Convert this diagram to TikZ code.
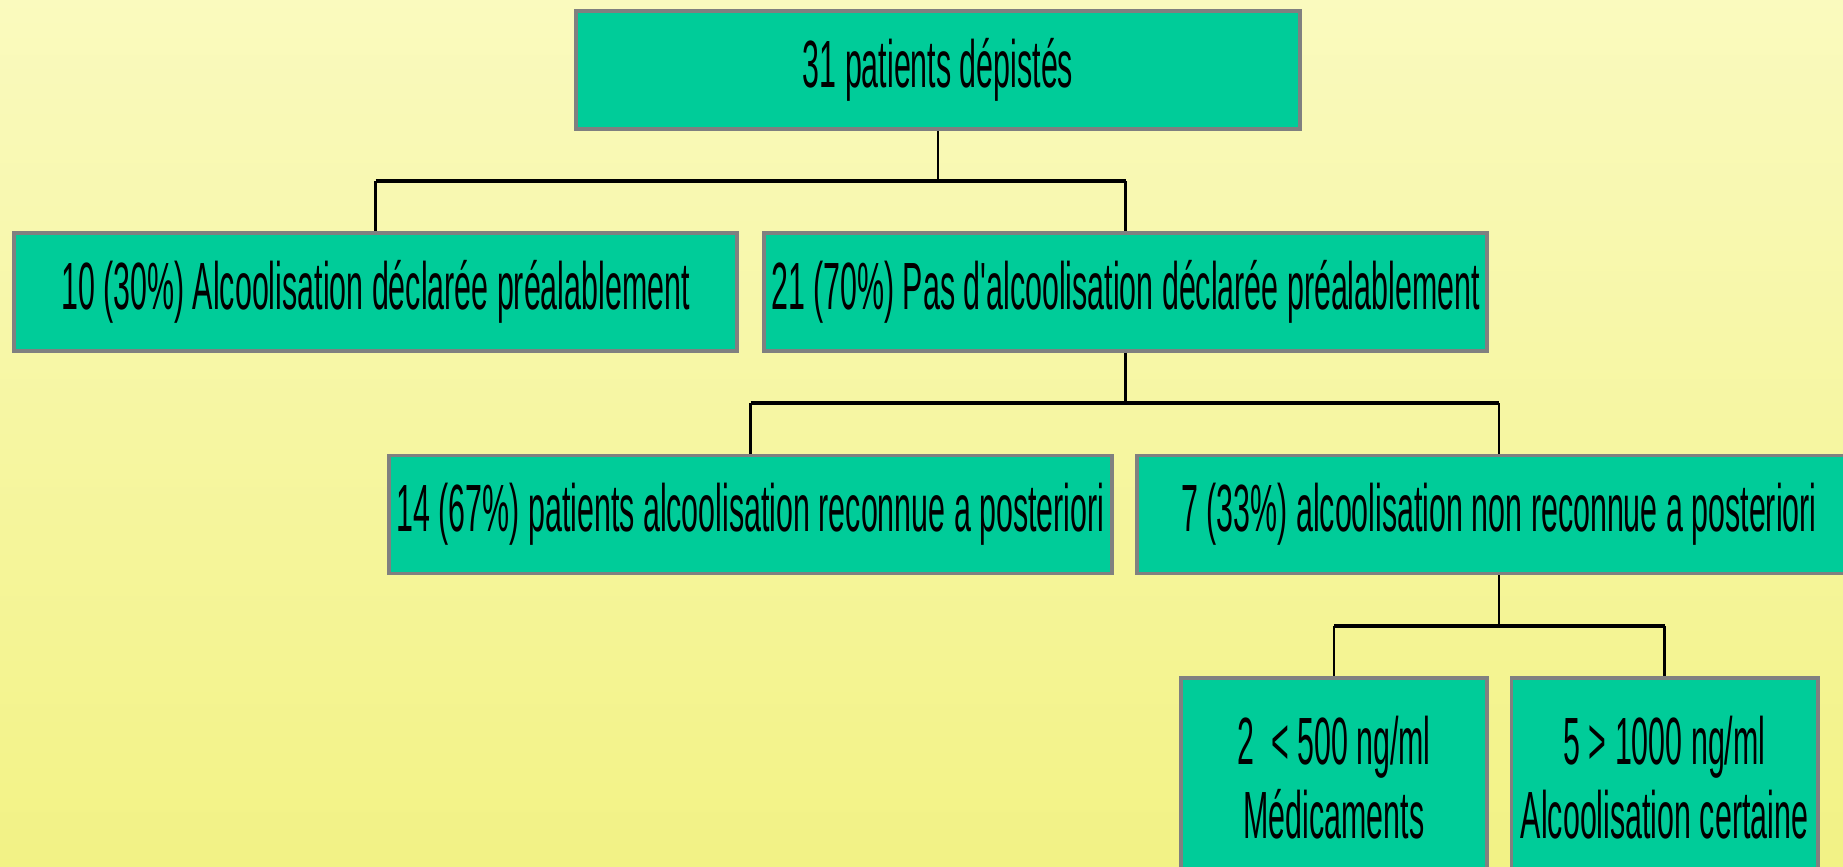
\documentclass[tikz,border=0pt]{standalone}
\usepackage{fontspec}
\newfontfamily\flfont{Liberation Sans}[FakeStretch=0.455]
\usepackage{tikz}
\usetikzlibrary{positioning,calc}
\definecolor{flTeal}{HTML}{00CC99}
\definecolor{flEdge}{HTML}{808080}
\definecolor{flInk}{HTML}{000000}
\definecolor{flBgTop}{HTML}{FAFABE}
\definecolor{flBgBot}{HTML}{F2F285}
\tikzset{
  % Teal count box
  cbox/.style={rectangle,minimum width=7.23cm,minimum height=1.18cm,
    inner sep=0pt,align=center,draw=flEdge,line width=1.1pt,
    fill=flTeal,text=flInk,font=\flfont\fontsize{19}{21}\selectfont},
  % Narrow result box (two lines)
  rbox/.style={cbox,minimum width=3.06cm,minimum height=2.0cm},
  % Connectors
  stem/.style={draw=flInk,line width=0.6pt},
  bar/.style={draw=flInk,line width=0.9pt},
}
\begin{document}
\begin{tikzpicture}[x=0.01cm,y=-0.01cm]
  \shade[top color=flBgTop,bottom color=flBgBot] (0,0) rectangle (1843,866);
  \useasboundingbox (0,0) rectangle (1843,866);
  \clip (0,0) rectangle (1843,866);

  %% --- LEVEL 1 ---
  \node[cbox] (screen) at (938,70) {31 patients dépistés};

  %% --- LEVEL 2 ---
  \node[cbox] (decl) at (375.5,292) {10 (30\%) Alcoolisation déclarée préalablement};
  \node[cbox] (nodecl) at (1125.5,292) {21 (70\%) Pas d'alcoolisation déclarée préalablement};

  %% --- LEVEL 3 ---
  \node[cbox] (known) at (750.5,514.5) {14 (67\%) patients alcoolisation reconnue a posteriori};
  \node[cbox] (unknown) at (1499,514.5) {7 (33\%) alcoolisation non reconnue a posteriori};

  %% --- LEVEL 4 ---
  \node[rbox] (drugs) at (1334,778) {2~~< 500 ng/ml\\Médicaments};
  \node[rbox] (sure) at (1664.5,778) {5 > 1000 ng/ml\\Alcoolisation certaine};

  % Junctions
  \coordinate (j1) at (938,181);
  \coordinate (j2) at (1125.5,403);
  \coordinate (j3) at (1499,626);

  \draw[stem] (screen.south) -- (j1);
  \draw[bar] (decl.north |- j1) -- (nodecl.north |- j1);
  \draw[stem] (decl.north |- j1) -- (decl.north);
  \draw[stem] (nodecl.north |- j1) -- (nodecl.north);

  \draw[stem] (nodecl.south) -- (j2);
  \draw[bar] (known.north |- j2) -- (unknown.north |- j2);
  \draw[stem] (known.north |- j2) -- (known.north);
  \draw[stem] (unknown.north |- j2) -- (unknown.north);

  \draw[stem] (unknown.south) -- (j3);
  \draw[bar] (drugs.north |- j3) -- (sure.north |- j3);
  \draw[stem] (drugs.north |- j3) -- (drugs.north);
  \draw[stem] (sure.north |- j3) -- (sure.north);
\end{tikzpicture}
\end{document}
